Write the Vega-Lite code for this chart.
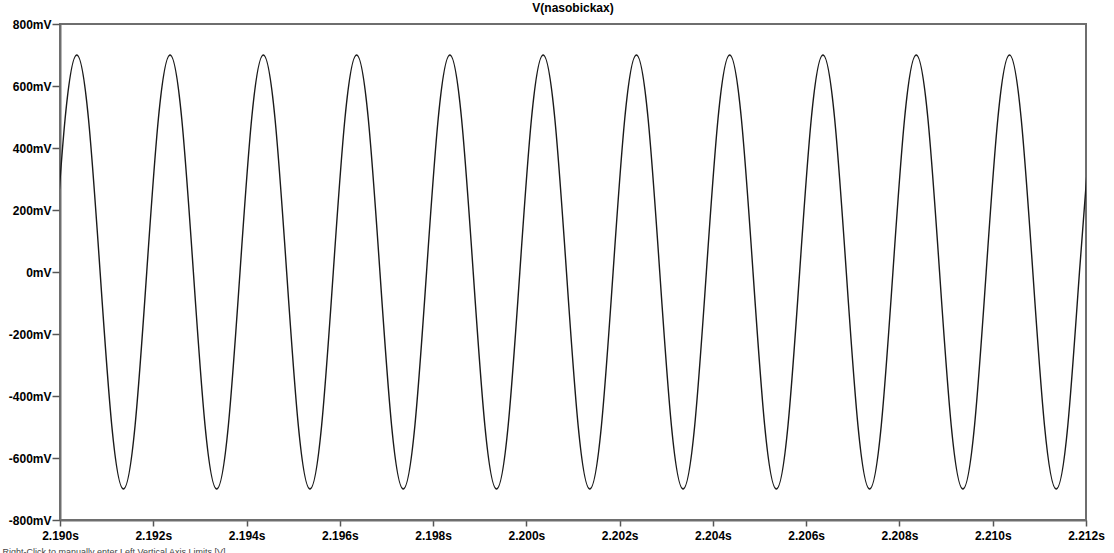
{
  "$schema": "https://vega.github.io/schema/vega-lite/v6.json",
  "width": 1026,
  "height": 496,
  "autosize": {"type": "none"},
  "padding": {"left": 60, "top": 24, "right": 28, "bottom": 33},
  "background": "white",
  "title": {"text": "V(nasobickax)", "font": "Liberation Sans", "fontSize": 12, "fontWeight": "bold", "color": "#000000", "offset": 3, "anchor": "middle"},
  "config": {"view": {"stroke": "#6e6e6e", "strokeWidth": 2}, "font": "Liberation Sans"},
  "data": {"values": [
    {"t": 2.18986, "v": 0}, {"t": 2.19011, "v": 495}, {"t": 2.19036, "v": 700}, {"t": 2.19061, "v": 495}, {"t": 2.19086, "v": 0}, {"t": 2.19111, "v": -495}, {"t": 2.19136, "v": -700}, {"t": 2.19161, "v": -495},
    {"t": 2.19186, "v": 0}, {"t": 2.19211, "v": 495}, {"t": 2.19236, "v": 700}, {"t": 2.19261, "v": 495}, {"t": 2.19286, "v": 0}, {"t": 2.19311, "v": -495}, {"t": 2.19336, "v": -700}, {"t": 2.19361, "v": -495},
    {"t": 2.19386, "v": 0}, {"t": 2.19411, "v": 495}, {"t": 2.19436, "v": 700}, {"t": 2.19461, "v": 495}, {"t": 2.19486, "v": 0}, {"t": 2.19511, "v": -495}, {"t": 2.19536, "v": -700}, {"t": 2.19561, "v": -495},
    {"t": 2.19586, "v": 0}, {"t": 2.19611, "v": 495}, {"t": 2.19636, "v": 700}, {"t": 2.19661, "v": 495}, {"t": 2.19686, "v": 0}, {"t": 2.19711, "v": -495}, {"t": 2.19736, "v": -700}, {"t": 2.19761, "v": -495},
    {"t": 2.19786, "v": 0}, {"t": 2.19811, "v": 495}, {"t": 2.19836, "v": 700}, {"t": 2.19861, "v": 495}, {"t": 2.19886, "v": 0}, {"t": 2.19911, "v": -495}, {"t": 2.19936, "v": -700}, {"t": 2.19961, "v": -495},
    {"t": 2.19986, "v": 0}, {"t": 2.20011, "v": 495}, {"t": 2.20036, "v": 700}, {"t": 2.20061, "v": 495}, {"t": 2.20086, "v": 0}, {"t": 2.20111, "v": -495}, {"t": 2.20136, "v": -700}, {"t": 2.20161, "v": -495},
    {"t": 2.20186, "v": 0}, {"t": 2.20211, "v": 495}, {"t": 2.20236, "v": 700}, {"t": 2.20261, "v": 495}, {"t": 2.20286, "v": 0}, {"t": 2.20311, "v": -495}, {"t": 2.20336, "v": -700}, {"t": 2.20361, "v": -495},
    {"t": 2.20386, "v": 0}, {"t": 2.20411, "v": 495}, {"t": 2.20436, "v": 700}, {"t": 2.20461, "v": 495}, {"t": 2.20486, "v": 0}, {"t": 2.20511, "v": -495}, {"t": 2.20536, "v": -700}, {"t": 2.20561, "v": -495},
    {"t": 2.20586, "v": 0}, {"t": 2.20611, "v": 495}, {"t": 2.20636, "v": 700}, {"t": 2.20661, "v": 495}, {"t": 2.20686, "v": 0}, {"t": 2.20711, "v": -495}, {"t": 2.20736, "v": -700}, {"t": 2.20761, "v": -495},
    {"t": 2.20786, "v": 0}, {"t": 2.20811, "v": 495}, {"t": 2.20836, "v": 700}, {"t": 2.20861, "v": 495}, {"t": 2.20886, "v": 0}, {"t": 2.20911, "v": -495}, {"t": 2.20936, "v": -700}, {"t": 2.20961, "v": -495},
    {"t": 2.20986, "v": 0}, {"t": 2.21011, "v": 495}, {"t": 2.21036, "v": 700}, {"t": 2.21061, "v": 495}, {"t": 2.21086, "v": 0}, {"t": 2.21111, "v": -495}, {"t": 2.21136, "v": -700}, {"t": 2.21161, "v": -495},
    {"t": 2.21186, "v": 0}, {"t": 2.21211, "v": 495}
  ]},
  "mark": {"type": "line", "interpolate": "natural", "clip": true, "color": "#1a1a1a", "strokeWidth": 1.4},
  "encoding": {
    "x": {
      "field": "t", "type": "quantitative",
      "scale": {"domain": [2.19, 2.212], "nice": false, "zero": false},
      "axis": {
        "values": [2.19, 2.192, 2.194, 2.196, 2.198, 2.2, 2.202, 2.204, 2.206, 2.208, 2.21, 2.212],
        "labelExpr": "format(datum.value, '.3f') + 's'",
        "labelFont": "Liberation Sans", "labelFontSize": 12, "labelFontWeight": "bold", "labelColor": "#000000",
        "labelPadding": 4, "labelFlush": false, "labelOverlap": false,
        "tickSize": 6, "tickColor": "#555555", "tickWidth": 1.5,
        "domainColor": "#6e6e6e", "domainWidth": 2, "grid": false,
        "title": "Right-Click to manually enter Left Vertical Axis Limits [V]",
        "titleFont": "Liberation Sans", "titleFontSize": 9, "titleFontWeight": "normal", "titleColor": "#444444",
        "titleAnchor": "start", "titleAlign": "left", "titleBaseline": "top", "titleX": -58, "titleY": 27
      }
    },
    "y": {
      "field": "v", "type": "quantitative",
      "scale": {"domain": [-800, 800], "nice": false},
      "axis": {
        "values": [-800, -600, -400, -200, 0, 200, 400, 600, 800],
        "labelExpr": "datum.value + 'mV'",
        "labelFont": "Liberation Sans", "labelFontSize": 12, "labelFontWeight": "bold", "labelColor": "#000000",
        "labelPadding": 1, "labelOverlap": false, "labelFlush": false,
        "tickSize": 8, "tickColor": "#555555", "tickWidth": 1.5,
        "domainColor": "#6e6e6e", "domainWidth": 2, "grid": false,
        "title": null
      }
    }
  }
}
